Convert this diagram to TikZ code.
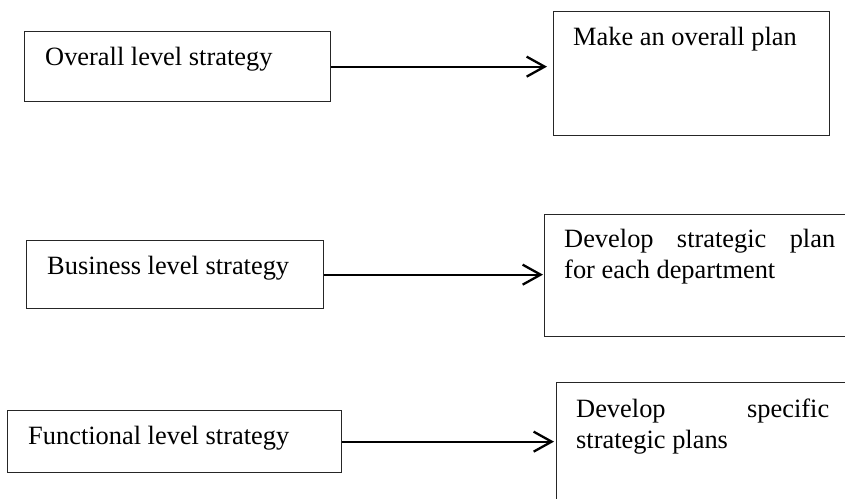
\documentclass[tikz,border=0pt]{standalone}
\usepackage{fontspec}
\setmainfont{Liberation Serif}
\usetikzlibrary{arrows.meta}
\begin{document}
\begin{tikzpicture}[x=1pt,y=-1pt,
  box/.style={draw=black!85, line width=1.3pt, inner sep=0pt, anchor=north west},
  lbl/.style={inner sep=0pt, anchor=base west, font=\fontsize{26.4}{31}\selectfont},
  arr/.style={line width=2.3pt, -{Straight Barb[length=18pt,width=20pt,line width=2.3pt]}}]
\clip (0,0) rectangle (845,498);
% left boxes
\node[box, minimum width=306pt, minimum height=70pt] (a1) at (24,31) {};
\node[box, minimum width=297pt, minimum height=68pt] (a2) at (26,240) {};
\node[box, minimum width=334pt, minimum height=62pt] (a3) at (7,410) {};
% right boxes
\node[box, minimum width=276pt, minimum height=124pt] (b1) at (553,11) {};
\node[box, minimum width=320pt, minimum height=122pt] (b2) at (544,214) {};
\node[box, minimum width=310pt, minimum height=140pt] (b3) at (556,382) {};
% texts
\node[lbl] (t1) at (45,65) {Overall level strategy};
\node[lbl] (t2) at (573,45) {Make an overall plan};
\node[lbl] (t3) at (47,274) {Business level strategy};
\node[lbl] (t4) at (564,247) {\parbox[t]{271pt}{\makebox[271pt][s]{Develop strategic plan}\\for each department}};
\node[lbl] (t5) at (28,444) {Functional level strategy};
\node[lbl] (t6) at (576,417) {\parbox[t]{253pt}{\makebox[253pt][s]{Develop specific}\\strategic plans}};
% arrows
\draw[arr, shorten >=6pt] (a1.east) -- (a1.east -| b1.west);
\draw[arr, shorten >=1pt] (a2.east) -- (a2.east -| b2.west);
\draw[arr, shorten >=2pt] (a3.east) -- (a3.east -| b3.west);
\end{tikzpicture}
\end{document}
